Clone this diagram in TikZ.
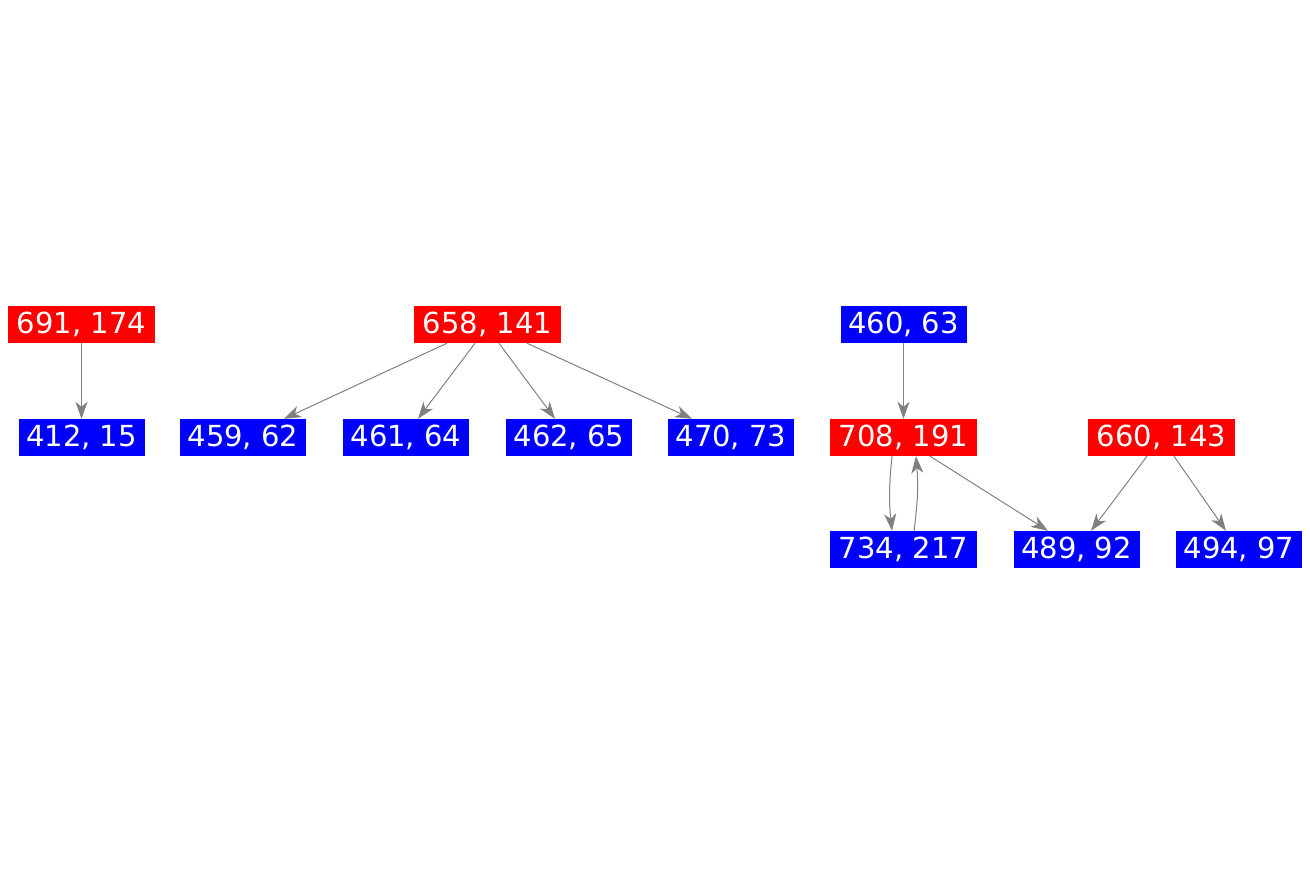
\documentclass[tikz,border=0pt]{standalone}
\usepackage{fontspec}
\setmainfont{DejaVu Sans}
\usepackage{tikz}
\usetikzlibrary{arrows.meta}

\begin{document}
\begin{tikzpicture}[x=1pt,y=-1pt,
    box/.style={inner sep=0pt,minimum height=37pt,text=white,
      font=\fontsize{29}{31}\selectfont},
    wide/.style={box,minimum width=147pt},
    narrow/.style={box,minimum width=126pt},
    redbox/.style={fill=red},
    bluebox/.style={fill=blue},
    edge/.style={draw=gray,line width=1pt,-{Stealth[length=17pt,width=12pt,inset=5pt]}}]
  \useasboundingbox (0,0) rectangle (1310,875);
  % First group
  \node[wide,redbox] (n691) at (81.5,324.5) {691, 174};
  \node[narrow,bluebox] (n412) at (81.5,437.5) {412, 15};
  \draw[edge] (n691) -- (n412);
  % Second group
  \node[wide,redbox] (n658) at (487.5,324.5) {658, 141};
  \node[narrow,bluebox] (n459) at (243,437.5) {459, 62};
  \node[narrow,bluebox] (n461) at (406,437.5) {461, 64};
  \node[narrow,bluebox] (n462) at (569,437.5) {462, 65};
  \node[narrow,bluebox] (n470) at (731,437.5) {470, 73};
  \draw[edge] ([xshift=-40.5pt]n658.south) -- ([xshift=41pt]n459.north);
  \draw[edge] ([xshift=-12.5pt]n658.south) -- ([xshift=12pt]n461.north);
  \draw[edge] ([xshift=11.5pt]n658.south) -- ([xshift=-14pt]n462.north);
  \draw[edge] ([xshift=39.5pt]n658.south) -- ([xshift=-39pt]n470.north);
  % Third group
  \node[narrow,bluebox] (n460) at (903.5,324.5) {460, 63};
  \node[wide,redbox] (n708) at (903.5,437.5) {708, 191};
  \node[wide,redbox] (n660) at (1161.5,437.5) {660, 143};
  \node[wide,bluebox] (n734) at (903.5,549.5) {734, 217};
  \node[narrow,bluebox] (n489) at (1076.5,549.5) {489, 92};
  \node[narrow,bluebox] (n494) at (1239,549.5) {494, 97};
  \draw[edge] (n460) -- (n708);
  \draw[edge] ([xshift=-11.5pt]n708.south) to[bend right=6] ([xshift=-11.5pt]n734.north);
  \draw[edge] ([xshift=10.5pt]n734.north) to[bend right=6] ([xshift=12.5pt]n708.south);
  \draw[edge] ([xshift=26.5pt]n708.south) -- ([xshift=-28.5pt]n489.north);
  \draw[edge] ([xshift=-14.5pt]n660.south) -- ([xshift=14.5pt]n489.north);
  \draw[edge] ([xshift=12.5pt]n660.south) -- ([xshift=-13pt]n494.north);
\end{tikzpicture}
\end{document}
